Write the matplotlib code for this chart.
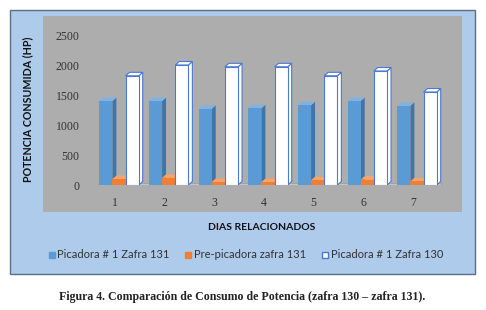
import numpy as np
import matplotlib
matplotlib.use("Agg")
import matplotlib.pyplot as plt
from matplotlib.patches import Rectangle, Polygon
from matplotlib.lines import Line2D

dias = [1, 2, 3, 4, 5, 6, 7]
picadora_131 = [1400, 1400, 1270, 1280, 1330, 1400, 1320]
prepicadora_131 = [100, 120, 50, 50, 80, 90, 60]
picadora_130 = [1820, 2000, 1970, 1970, 1820, 1900, 1550]
series_names = ["Picadora # 1 Zafra 131", "Pre-picadora zafra 131", "Picadora # 1 Zafra 130"]

W, H = 486, 310
fig = plt.figure(figsize=(W / 100, H / 100), dpi=100)
fig.patch.set_facecolor("white")


def px_rect(x0, y0, x1, y1, **kw):
    # rectangle in pixel coords (top-left origin) -> figure fraction
    r = Rectangle((x0 / W, 1 - y1 / H), (x1 - x0) / W, (y1 - y0) / H,
                  transform=fig.transFigure, zorder=-5, **kw)
    fig.patches.append(r)


# blue chart area and grey plot area
px_rect(10, 10, 475, 274, facecolor="#aecbeb", edgecolor="#5a6f86", lw=1.0)
px_rect(43, 16, 462, 212, facecolor="#adadad", edgecolor="none")

# axes placed so that y 0..2500 maps to px 185..35
ax = fig.add_axes([95 / W, (H - 185) / H, 350 / W, 150 / H])
ax.set_facecolor("none")
ax.set_xlim(0.597, 7.644)
ax.set_ylim(0, 2500)
for s in ax.spines.values():
    s.set_visible(False)

x = np.array(dias, dtype=float)
w = 0.265
dx, dy = 0.08, 58  # fake 3D depth

# floor
floor = Polygon([(0.63, -25), (7.52, -25), (7.6, 25), (0.71, 25)],
                closed=True, facecolor="#c4c4c4", edgecolor="#9a9a9a", lw=0.5, zorder=1)
ax.add_patch(floor)

styles = [
    (picadora_131, "#5b9bd5", "#3f75a8", "#7fb2e2", "none"),
    (prepicadora_131, "#f07f32", "#c2601e", "#f7a468", "none"),
    (picadora_130, "#ffffff", "#ffffff", "#ffffff", "#4a78d8"),
]
for i, (vals, face, side, top, edge) in enumerate(styles):
    xs = x + 0.08 + (i - 1) * w
    lw = 0.8 if edge != "none" else 0
    ax.bar(xs, vals, width=w, color=face, edgecolor=edge, linewidth=lw, zorder=3 + i)
    for xc, v in zip(xs, vals):
        xr = xc + w / 2
        xl = xc - w / 2
        ax.add_patch(Polygon([(xr, 0), (xr + dx, dy), (xr + dx, v + dy), (xr, v)],
                             closed=True, facecolor=side, edgecolor=edge, lw=lw, zorder=2 + i))
        ax.add_patch(Polygon([(xl, v), (xr, v), (xr + dx, v + dy), (xl + dx, v + dy)],
                             closed=True, facecolor=top, edgecolor=edge, lw=lw, zorder=2 + i))

ax.set_yticks([0, 500, 1000, 1500, 2000, 2500])
ax.set_xticks(dias)
ax.tick_params(length=0, labelsize=8.5, labelcolor="#333333", labelfontfamily="Liberation Serif")
ax.tick_params(axis="y", pad=11)
ax.tick_params(axis="x", pad=9)

fig.text(28 / W, 1 - 109 / H, "POTENCIA CONSUMIDA (HP)", rotation=90, ha="center", va="center",
         fontsize=7.7, fontweight="bold", family="Lato", color="#111111")
fig.text(262 / W, 1 - 227 / H, "DIAS RELACIONADOS", ha="center", va="center",
         fontsize=7.5, fontweight="bold", family="Lato", color="#111111")

handles = [
    Line2D([], [], marker="s", ls="none", markersize=5, markerfacecolor="#5b9bd5", markeredgecolor="#5b9bd5"),
    Line2D([], [], marker="s", ls="none", markersize=5, markerfacecolor="#f07f32", markeredgecolor="#f07f32"),
    Line2D([], [], marker="s", ls="none", markersize=5, markerfacecolor="white", markeredgecolor="#4a78d8"),
]
fig.legend(handles, series_names, loc="center", bbox_to_anchor=(245 / W, 1 - 255 / H), ncol=3,
           frameon=False, prop={"family": "Lato", "size": 8}, handletextpad=0.1, columnspacing=1.3,
           handlelength=0.8, labelcolor="#333333")

fig.text(242 / W, 1 - 297 / H, "Figura 4. Comparación de Consumo de Potencia (zafra 130 \u2013 zafra 131).",
         ha="center", va="center", fontsize=8.6, fontweight="bold", family="Liberation Serif", color="#222222")

fig.savefig("out.png", dpi=100)
